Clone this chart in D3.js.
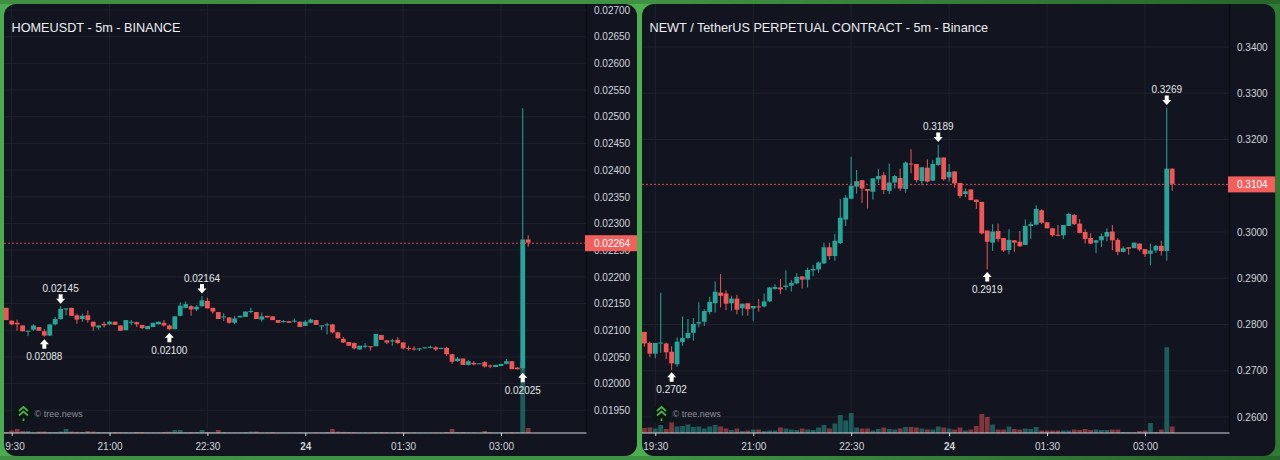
<!DOCTYPE html>
<html>
<head>
<meta charset="utf-8">
<script src="https://cdn.jsdelivr.net/npm/d3@7"></script>
<style>
  html, body { margin: 0; padding: 0; background: #45a049; }
  svg { display: block; }
  text { font-family: "Liberation Sans", Arial, sans-serif; }
</style>
</head>
<body>
<svg id="chart"></svg>
<script>
// HOMEUSDT candles, 5m bars from 19:25
const homeOpen = [0.02142,0.02118,0.02114,0.02109,0.02098,0.02101,0.02106,0.02098,0.0209,0.02111,
  0.02121,0.02139,0.02142,0.02128,0.02121,0.02128,0.02116,0.02105,0.02112,0.02111,
  0.02116,0.02109,0.021,0.02114,0.02115,0.0211,0.02102,0.02106,0.02111,0.02114,
  0.02109,0.02102,0.02127,0.02142,0.02145,0.02139,0.02145,0.02155,0.02142,0.02134,
  0.02124,0.02124,0.02114,0.02124,0.02125,0.02134,0.02134,0.0212,0.02127,0.02126,
  0.02119,0.02116,0.02117,0.02116,0.02116,0.02108,0.02114,0.02119,0.02107,0.02109,
  0.02111,0.02096,0.02084,0.02078,0.02076,0.02064,0.02069,0.0207,0.0207,0.02091,
  0.02081,0.02079,0.02082,0.02077,0.02067,0.02066,0.02064,0.02066,0.02067,0.02068,
  0.02065,0.02067,0.02055,0.02042,0.02047,0.02035,0.02039,0.02037,0.0204,0.02034,
  0.02031,0.02033,0.02037,0.02042,0.0203,0.02029,0.0227]
const homeHigh = [0.02142,0.02118,0.0212,0.02109,0.02099,0.02111,0.02106,0.02102,0.02111,0.02125,
  0.02145,0.02141,0.02142,0.02131,0.02131,0.02137,0.02116,0.02109,0.02116,0.02118,
  0.02116,0.02109,0.02119,0.02119,0.02116,0.0211,0.02108,0.02114,0.02116,0.02119,
  0.02111,0.02126,0.02152,0.02154,0.02147,0.02147,0.02164,0.02161,0.02142,0.02134,
  0.02132,0.02124,0.02127,0.02127,0.02135,0.02142,0.02134,0.02133,0.02127,0.02126,
  0.02119,0.02119,0.02117,0.02122,0.02116,0.02119,0.02122,0.02119,0.02109,0.02114,
  0.02112,0.02097,0.02087,0.02078,0.02077,0.02071,0.02076,0.0207,0.02093,0.02091,
  0.02082,0.02084,0.02087,0.02078,0.02071,0.0207,0.02067,0.02068,0.02071,0.0207,
  0.02067,0.02069,0.02056,0.0205,0.02047,0.02044,0.02042,0.02038,0.02042,0.02036,
  0.02035,0.02037,0.02046,0.02042,0.02031,0.02516,0.02278]
const homeLow = [0.02119,0.02109,0.02099,0.02098,0.02089,0.02099,0.02099,0.02088,0.02089,0.02109,
  0.0212,0.02128,0.02127,0.02112,0.02116,0.02114,0.02099,0.02101,0.02105,0.02109,
  0.0211,0.02099,0.021,0.02109,0.02106,0.02102,0.02102,0.02106,0.02111,0.02107,
  0.021,0.02102,0.02126,0.02141,0.02127,0.02136,0.02144,0.02141,0.02131,0.02121,
  0.02117,0.02112,0.02111,0.02124,0.02125,0.02132,0.02121,0.02116,0.02124,0.02119,
  0.02114,0.02114,0.02114,0.02114,0.02106,0.02108,0.02113,0.0211,0.021,0.02092,
  0.02094,0.02084,0.02076,0.02071,0.02064,0.02064,0.02066,0.02062,0.0207,0.02082,
  0.02074,0.02071,0.02074,0.02064,0.02062,0.02062,0.02061,0.02066,0.02066,0.02061,
  0.02065,0.02052,0.02037,0.02041,0.02035,0.02034,0.02034,0.02037,0.0203,0.02029,
  0.02031,0.02033,0.02036,0.02027,0.02026,0.02025,0.02256]
const homeClose = [0.02119,0.02111,0.02111,0.02098,0.02099,0.02109,0.02099,0.0209,0.02111,0.02121,
  0.0214,0.02141,0.02127,0.0212,0.02127,0.02119,0.02107,0.02109,0.02109,0.02116,
  0.0211,0.02099,0.02119,0.02116,0.02111,0.02104,0.02108,0.02114,0.02116,0.02109,
  0.02102,0.02126,0.02146,0.02149,0.02139,0.02144,0.02156,0.02141,0.02135,0.02121,
  0.02126,0.02114,0.02122,0.02127,0.02135,0.02136,0.02121,0.02126,0.02124,0.02119,
  0.02114,0.02117,0.02114,0.02118,0.02106,0.02116,0.0212,0.0211,0.02109,0.02111,
  0.02096,0.02085,0.02077,0.02071,0.02066,0.02071,0.02071,0.02069,0.02093,0.02082,
  0.02077,0.02081,0.02076,0.02066,0.02066,0.02064,0.02066,0.02068,0.02069,0.02064,
  0.02067,0.02055,0.02041,0.02047,0.02035,0.02042,0.02036,0.02038,0.02032,0.02032,
  0.02035,0.02037,0.02042,0.02027,0.02027,0.0227,0.02264]
const homeVolume = [1,2.5,4,2,2,0.6,1.5,1.5,1,1,
  1.5,4,1.5,1.2,1,2,1.5,1,0.8,0.8,
  1,0.8,0.8,0.6,1,1,0.6,0.6,0.6,1,
  1.2,3,3,0.8,1,1,3,1,0.8,3,
  1,0.6,0.6,0.6,0.8,1.5,1.5,0.5,0.6,0.8,
  0.5,0.4,0.5,0.5,0.8,0.5,0.5,0.6,0.6,1,
  4,1.5,1.2,1,0.8,0.6,0.5,0.5,1,1,
  0.8,0.6,1,1,0.5,0.6,0.4,0.4,0.4,0.5,
  0.4,1,4,1,1,0.6,0.6,0.4,2,0.8,
  0.5,0.4,0.5,0.8,0.6,72,5]
const homeTicks = [0.0195,0.02,0.0205,0.021,0.0215,0.022,0.0225,0.023,0.0235,0.024,0.0245,0.025,0.0255,0.026,0.0265,0.027]
const homeMarkers = [
  { bar: 7, price: 0.02088, dir: "up" },
  { bar: 10, price: 0.02145, dir: "down" },
  { bar: 30, price: 0.021, dir: "up" },
  { bar: 36, price: 0.02164, dir: "down" },
  { bar: 95, price: 0.02025, dir: "up" }
]

// NEWT candles, 5m bars from 19:20
const newtOpen = [0.2784,0.276,0.2737,0.2759,0.2759,0.2741,0.2714,0.2762,0.2771,0.2782,
  0.2802,0.2806,0.2827,0.2846,0.2869,0.2867,0.2846,0.2856,0.2835,0.2846,
  0.2835,0.2839,0.2839,0.285,0.2877,0.288,0.2881,0.2884,0.2889,0.2904,
  0.2897,0.2917,0.2919,0.2932,0.2967,0.2948,0.2976,0.3027,0.3072,0.3098,
  0.3112,0.3093,0.3087,0.3114,0.3123,0.3089,0.3107,0.3117,0.3093,0.3148,
  0.3147,0.311,0.3139,0.3111,0.3145,0.3161,0.3118,0.3131,0.3106,0.3082,
  0.3092,0.307,0.3065,0.3003,0.2977,0.3002,0.2987,0.2961,0.2982,0.2979,
  0.2972,0.3013,0.3016,0.3047,0.3021,0.3008,0.2994,0.2993,0.3013,0.3037,
  0.3018,0.3,0.2987,0.2977,0.2982,0.299,0.3001,0.2983,0.2957,0.2967,
  0.2965,0.2975,0.2963,0.2953,0.296,0.297,0.2959,0.3137]
const newtHigh = [0.2784,0.2763,0.276,0.2869,0.2761,0.2753,0.2772,0.2817,0.2812,0.2814,
  0.2848,0.2833,0.286,0.2893,0.2909,0.2874,0.2862,0.2864,0.2845,0.2846,
  0.284,0.2855,0.2867,0.2881,0.2887,0.2898,0.2917,0.2896,0.2911,0.2904,
  0.2923,0.2929,0.2936,0.2977,0.2977,0.2996,0.3071,0.308,0.3163,0.3134,
  0.3112,0.3093,0.3116,0.3136,0.313,0.3148,0.3123,0.3137,0.3152,0.3179,
  0.3147,0.314,0.3157,0.3156,0.3189,0.3161,0.3147,0.3131,0.3106,0.3094,
  0.3092,0.307,0.3065,0.3003,0.3017,0.3018,0.2987,0.3006,0.2982,0.3002,
  0.3027,0.3022,0.3058,0.3049,0.3021,0.3008,0.3015,0.3015,0.3042,0.3039,
  0.3028,0.3006,0.2997,0.2982,0.2997,0.3008,0.3015,0.2987,0.2969,0.2967,
  0.2977,0.2975,0.2963,0.2975,0.2972,0.2981,0.3269,0.3137]
const newtLow = [0.2752,0.2729,0.2727,0.2739,0.2725,0.2702,0.2709,0.2754,0.2768,0.2765,
  0.2794,0.2797,0.2822,0.2826,0.2837,0.2831,0.283,0.2822,0.2819,0.2819,
  0.2808,0.2828,0.2837,0.2849,0.2875,0.2866,0.2874,0.2871,0.2887,0.2878,
  0.288,0.2905,0.2912,0.2931,0.294,0.2938,0.2974,0.3013,0.3071,0.3083,
  0.3063,0.3051,0.307,0.3105,0.3082,0.3082,0.3094,0.3089,0.3085,0.3127,
  0.3107,0.3101,0.3107,0.311,0.3143,0.3111,0.3109,0.3096,0.3073,0.3075,
  0.3069,0.305,0.2995,0.2919,0.2959,0.2979,0.2957,0.2952,0.2957,0.2968,
  0.2972,0.2985,0.3014,0.3017,0.3008,0.299,0.2991,0.2985,0.3013,0.3015,
  0.2997,0.2975,0.2974,0.2954,0.2968,0.298,0.2961,0.295,0.2956,0.2951,
  0.2965,0.2958,0.2946,0.2928,0.2955,0.2949,0.2938,0.3089]
const newtClose = [0.2759,0.2737,0.276,0.2761,0.274,0.2716,0.2763,0.2771,0.2782,0.2801,
  0.2805,0.2829,0.2849,0.2871,0.2862,0.2845,0.2856,0.2832,0.2845,0.2833,
  0.284,0.2837,0.285,0.288,0.2881,0.2876,0.2884,0.289,0.2903,0.2897,
  0.2918,0.292,0.2934,0.2967,0.2948,0.2981,0.3031,0.3074,0.31,0.311,
  0.3094,0.3089,0.3116,0.3121,0.3091,0.3107,0.3121,0.3094,0.315,0.3147,
  0.3112,0.314,0.3109,0.3147,0.3161,0.3114,0.313,0.3105,0.3078,0.3088,
  0.3069,0.3065,0.2997,0.2979,0.3001,0.2985,0.296,0.2983,0.2977,0.2969,
  0.3013,0.3017,0.305,0.302,0.3008,0.2993,0.2992,0.3015,0.3039,0.3017,
  0.2998,0.2985,0.2975,0.2982,0.2991,0.3,0.2982,0.2957,0.2965,0.2964,
  0.2977,0.2962,0.2952,0.296,0.297,0.2959,0.3137,0.3104]
const newtVolume = [5,5.5,4.5,8,4,10.5,6.5,7,8.5,6,
  6.5,4.5,6.5,8,6.5,4.5,3,4.5,2,2.5,
  3.5,3.5,2,2.5,2.5,5.5,4.5,3.5,3,4.5,
  3.5,3,5.5,8,4.5,9.5,18,12.5,20,5.5,
  4.5,4.5,2.5,4,5.5,4,3.5,4.5,6,6,
  5.5,4.5,3.5,3.5,6.5,5.5,4.5,3.5,5.5,2.5,
  3.5,7,19,16,8.5,3.5,3.5,6.5,4,3.5,
  4.5,4,6,2.5,2.5,2.5,2.5,2.5,2.5,3.5,
  3,4,3,3.5,3,3,3.5,3.5,1,0.7,
  0.7,2,2.5,10,1,3.5,85.7,6.5]
const newtTicks = [0.26,0.27,0.28,0.29,0.3,0.31,0.32,0.33,0.34]
const newtMarkers = [
  { bar: 5, price: 0.2702, dir: "up" },
  { bar: 54, price: 0.3189, dir: "down" },
  { bar: 63, price: 0.2919, dir: "up" },
  { bar: 96, price: 0.3269, dir: "down" }
]

const timeTicks = [
  new Date(2025, 5, 23, 19, 30),
  new Date(2025, 5, 23, 21, 0),
  new Date(2025, 5, 23, 22, 30),
  new Date(2025, 5, 24, 0, 0),
  new Date(2025, 5, 24, 1, 30),
  new Date(2025, 5, 24, 3, 0)
]

const upColor = "#26a69a"
const downColor = "#f25555"
const textColor = "#d1d4dc"
const gridColor = "#1e222c"
const width = 1280
const height = 460
const barWidth = 4.8

let svg = d3.select("#chart").attr("width", width).attr("height", height)

let defs = svg.append("defs")
let backdrop = defs.append("linearGradient").attr("id", "backdrop")
backdrop.append("stop").attr("offset", "0%").attr("stop-color", "#4cab50")
backdrop.append("stop").attr("offset", "50%").attr("stop-color", "#4caf50")
backdrop.append("stop").attr("offset", "100%").attr("stop-color", "#2f7a34")

svg.append("rect")
  .attr("width", width)
  .attr("height", height)
  .attr("fill", "url(#backdrop)")

// the frame is a bit darker along the top and bottom
svg.append("rect").attr("width", width).attr("height", 4).attr("fill", "#000").attr("opacity", 0.16)
svg.append("rect").attr("y", 456).attr("width", width).attr("height", 4).attr("fill", "#000").attr("opacity", 0.16)

let drawPanel = (p) => {
  let g = svg.append("g").attr("clip-path", "url(#" + p.id + ")")

  defs.append("clipPath").attr("id", p.id)
    .append("rect")
    .attr("x", p.left)
    .attr("y", 4)
    .attr("width", p.right - p.left)
    .attr("height", 452)
    .attr("rx", 12)

  g.append("rect")
    .attr("x", p.left)
    .attr("y", 4)
    .attr("width", p.right - p.left)
    .attr("height", 452)
    .attr("fill", "#12151f")

  let xScale = d3.scaleTime()
    .domain([timeTicks[0], timeTicks[5]])
    .range([p.tickStart, p.tickEnd])
  let yScale = d3.scaleLinear().domain(p.priceDomain).range(p.priceRange)
  let volScale = d3.scaleLinear().domain([0, 86]).range([433, 347])

  let barTime = (i) => d3.timeMinute.offset(p.start, i * 5)
  let barX = (i) => xScale(barTime(i))

  // grid
  g.append("g").selectAll("line")
    .data(p.ticks)
    .enter()
    .append("line")
    .attr("x1", p.left)
    .attr("x2", p.axisX)
    .attr("y1", (d) => yScale(d))
    .attr("y2", (d) => yScale(d))
    .attr("stroke", gridColor)

  g.append("g").selectAll("line")
    .data(timeTicks)
    .enter()
    .append("line")
    .attr("x1", (d) => xScale(d))
    .attr("x2", (d) => xScale(d))
    .attr("y1", 4)
    .attr("y2", 433)
    .attr("stroke", gridColor)

  let bars = d3.range(p.open.length)

  // volume sits behind the candles
  g.append("g").selectAll("rect")
    .data(bars)
    .enter()
    .append("rect")
    .attr("x", (i) => barX(i) - barWidth / 2)
    .attr("y", (i) => volScale(p.volume[i]))
    .attr("width", barWidth)
    .attr("height", (i) => volScale(0) - volScale(p.volume[i]))
    .attr("fill", (i) => p.close[i] >= p.open[i] ? upColor : downColor)
    .attr("opacity", 0.5)

  g.append("g").selectAll("line")
    .data(bars)
    .enter()
    .append("line")
    .attr("x1", (i) => barX(i))
    .attr("x2", (i) => barX(i))
    .attr("y1", (i) => yScale(p.high[i]))
    .attr("y2", (i) => yScale(p.low[i]))
    .attr("stroke", (i) => p.close[i] >= p.open[i] ? upColor : downColor)
    .attr("stroke-width", 1)

  g.append("g").selectAll("rect")
    .data(bars)
    .enter()
    .append("rect")
    .attr("x", (i) => barX(i) - barWidth / 2)
    .attr("y", (i) => yScale(Math.max(p.open[i], p.close[i])))
    .attr("width", barWidth)
    .attr("height", (i) => Math.max(1, Math.abs(yScale(p.open[i]) - yScale(p.close[i]))))
    .attr("fill", (i) => p.close[i] >= p.open[i] ? upColor : downColor)

  // last price line
  let lastPrice = p.close[p.close.length - 1]
  g.append("line")
    .attr("x1", p.left)
    .attr("x2", p.axisX)
    .attr("y1", yScale(lastPrice) + 0.5)
    .attr("y2", yScale(lastPrice) + 0.5)
    .attr("stroke", downColor)
    .attr("stroke-dasharray", "2 2")
    .attr("opacity", 0.85)

  // price axis
  let yAxis = d3.axisRight(yScale)
    .tickValues(p.ticks)
    .tickSize(0)
    .tickPadding(7.5)
    .tickFormat(d3.format("." + p.digits + "f"))
  let yG = g.append("g").attr("transform", "translate(" + p.axisX + ",0)").call(yAxis)
  yG.select(".domain").attr("stroke", "#0a0c12").attr("stroke-width", 1.5)
    .attr("d", "M0,4V433")
  yG.selectAll("text").attr("fill", textColor).style("font-size", "10px")

  // time axis
  let xAxis = d3.axisBottom(xScale)
    .tickValues(timeTicks)
    .tickSize(3)
    .tickPadding(6.5)
    .tickFormat((d) => d.getHours() == 0 ? d3.timeFormat("%-d")(d) : d3.timeFormat("%H:%M")(d))
  let xG = g.append("g").attr("transform", "translate(0,433)").call(xAxis)
  xG.select(".domain").attr("stroke", textColor).attr("d", "M" + p.left + ",0H" + p.axisX)
  xG.selectAll("line").attr("stroke", textColor)
  xG.selectAll("text")
    .attr("fill", textColor)
    .style("font-size", "10px")
    .style("font-weight", (d) => d.getHours() == 0 ? "bold" : "normal")

  // high and low markers
  let markers = g.append("g").selectAll("g")
    .data(p.markers)
    .enter()
    .append("g")
    .attr("transform", (d) => "translate(" + barX(d.bar) + "," + yScale(d.price) + ")")

  markers.append("path")
    .attr("fill", "#ffffff")
    .attr("d", (d) => d.dir == "up"
      ? "M0,2.5L4.5,7.5H2V12H-2V7.5H-4.5Z"
      : "M0,-2.5L4.5,-7.5H2V-12H-2V-7.5H-4.5Z")

  markers.append("text")
    .attr("text-anchor", "middle")
    .attr("y", (d) => d.dir == "up" ? 23.5 : -14.5)
    .attr("fill", "#e4e6eb")
    .style("font-size", "10px")
    .text((d) => d3.format("." + p.digits + "f")(d.price))

  // last price tag
  g.append("rect")
    .attr("x", p.axisX - 1.5)
    .attr("y", yScale(lastPrice) - 7.5)
    .attr("width", p.right - p.axisX + 1.5)
    .attr("height", 16)
    .attr("fill", "#f25f5c")

  g.append("text")
    .attr("x", p.axisX + 7.5)
    .attr("y", yScale(lastPrice) + 4)
    .attr("fill", "#ffffff")
    .style("font-size", "10px")
    .text(d3.format("." + p.digits + "f")(lastPrice))

  // title
  g.append("text")
    .attr("x", p.left + 7.5)
    .attr("y", 31.5)
    .attr("fill", "#eceef2")
    .style("font-size", "12.7px")
    .text(p.title)

  // tree.news mark
  let mark = g.append("g").attr("transform", "translate(" + (p.left + 19.5) + ",414)")
  mark.append("circle").attr("r", 10).attr("fill", "#0c1714")
  mark.append("path")
    .attr("d", "M-4.5,-3L0,-7L4.5,-3M-4.5,1.5L0,-2.5L4.5,1.5M0,4.5V7")
    .attr("fill", "none")
    .attr("stroke", "#4caf50")
    .attr("stroke-width", 1.7)
  g.append("text")
    .attr("x", p.left + 30.5)
    .attr("y", 417)
    .attr("fill", "#8b8f99")
    .style("font-size", "9px")
    .text("© tree.news")
}

drawPanel({
  id: "clipHome",
  title: "HOMEUSDT - 5m - BINANCE",
  left: 4,
  right: 637,
  axisX: 586.5,
  tickStart: 11.7,
  tickEnd: 501,
  start: new Date(2025, 5, 23, 19, 25),
  priceDomain: [0.0195, 0.027],
  priceRange: [410.3, 10],
  ticks: homeTicks,
  digits: 5,
  open: homeOpen,
  high: homeHigh,
  low: homeLow,
  close: homeClose,
  volume: homeVolume,
  markers: homeMarkers
})

drawPanel({
  id: "clipNewt",
  title: "NEWT / TetherUS PERPETUAL CONTRACT - 5m - Binance",
  left: 642,
  right: 1275.5,
  axisX: 1229.5,
  tickStart: 655.3,
  tickEnd: 1145,
  start: new Date(2025, 5, 23, 19, 20),
  priceDomain: [0.26, 0.34],
  priceRange: [417, 47],
  ticks: newtTicks,
  digits: 4,
  open: newtOpen,
  high: newtHigh,
  low: newtLow,
  close: newtClose,
  volume: newtVolume,
  markers: newtMarkers
})
</script>
</body>
</html>
